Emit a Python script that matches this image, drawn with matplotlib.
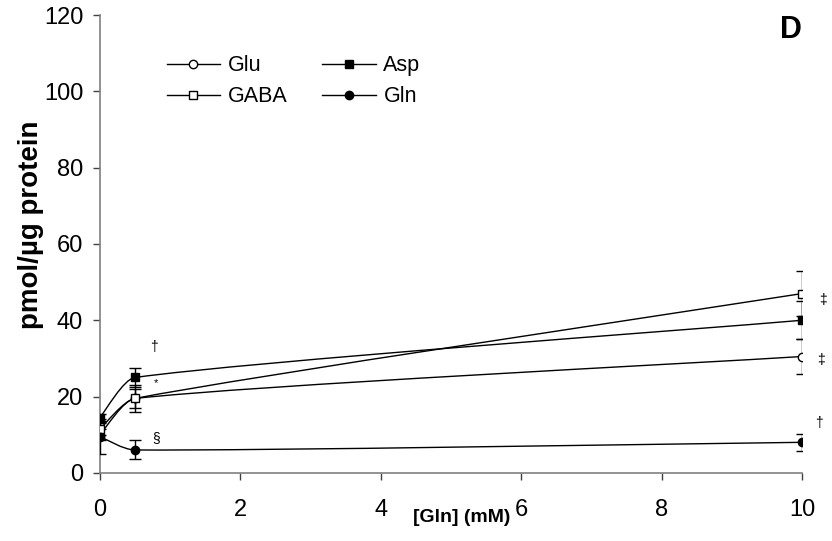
import matplotlib
matplotlib.use('Agg')
import matplotlib.pyplot as plt
from matplotlib.path import Path
import matplotlib.patches as mpatches
from matplotlib.lines import Line2D

plt.rcParams['font.family'] = ['Liberation Sans', 'DejaVu Sans']
NARROW = ['Liberation Sans Narrow', 'Liberation Sans', 'DejaVu Sans']

# data
gln_mM = [0, 0.5, 10]
glu = [10, 19.5, 30.5]
glu_err = [1.5, 3.5, 4.5]
gaba = [11.5, 19.5, 47]
gaba_err = [1.5, 2.5, 6]
asp = [14.5, 25, 40]
asp_err = [1.0, 2.5, 5]
gln = [9.5, 6, 8]
gln_err = [4.5, 2.5, 2.3]

# legend order: column 1 Glu, GABA; column 2 Asp, Gln
series = [
    ('Glu', glu, glu_err, 'o', 'white'),
    ('GABA', gaba, gaba_err, 's', 'white'),
    ('Asp', asp, asp_err, 's', 'black'),
    ('Gln', gln, gln_err, 'o', 'black'),
]


def smooth_path(xs, ys):
    # Excel-like smoothed line: cubic bezier segments through the points
    n = len(xs)
    verts = [(xs[0], ys[0])]
    codes = [Path.MOVETO]
    for i in range(n - 1):
        x0, y0 = xs[max(i - 1, 0)], ys[max(i - 1, 0)]
        x1, y1 = xs[i], ys[i]
        x2, y2 = xs[i + 1], ys[i + 1]
        x3, y3 = xs[min(i + 2, n - 1)], ys[min(i + 2, n - 1)]
        d1 = ((x2 - x0) / 6, (y2 - y0) / 6)
        d2 = ((x3 - x1) / 6, (y3 - y1) / 6)
        seg = x2 - x1
        if d1[0] > seg / 3:
            f = seg / 3 / d1[0]
            d1 = (d1[0] * f, d1[1] * f)
        if d2[0] > seg / 3:
            f = seg / 3 / d2[0]
            d2 = (d2[0] * f, d2[1] * f)
        verts += [(x1 + d1[0], y1 + d1[1]), (x2 - d2[0], y2 - d2[1]), (x2, y2)]
        codes += [Path.CURVE4] * 3
    return Path(verts, codes)


fig = plt.figure(figsize=(8.32, 5.41), dpi=100)
ax = fig.add_axes([0.120, 0.126, 0.844, 0.846])

for name, ys, err, mk, fc in series:
    ax.add_patch(mpatches.PathPatch(smooth_path(gln_mM, ys), facecolor='none',
                                    edgecolor='black', lw=1.0, zorder=2))
    ax.errorbar(gln_mM, ys, yerr=err, fmt='none', ecolor='black', elinewidth=1,
                capsize=4, capthick=1, zorder=3)
    ax.plot(gln_mM, ys, linestyle='none', marker=mk, markersize=6 if mk == 'o' else 5.5,
            markerfacecolor=fc, markeredgecolor='black', markeredgewidth=1, zorder=4)

ax.set_xlim(0, 10)
ax.set_ylim(0, 120)
ax.set_xticks([0, 2, 4, 6, 8, 10])
ax.set_yticks(range(0, 121, 20))
for s in ['top', 'right']:
    ax.spines[s].set_visible(False)
for s in ['left', 'bottom']:
    ax.spines[s].set_color('#808080')
    ax.spines[s].set_linewidth(1.2)
ax.tick_params(direction='out', length=5, width=1, color='#404040')
ax.tick_params(axis='x', pad=14)
ax.tick_params(axis='y', pad=7)
for lab in ax.get_xticklabels() + ax.get_yticklabels():
    lab.set_family(NARROW)
    lab.set_fontsize(17)

ax.set_ylabel('pmol/µg protein', fontsize=20, fontweight='bold')
ax.yaxis.set_label_coords(-0.080, 0.541)
ax.yaxis.label.set_verticalalignment('bottom')
ax.set_xlabel('[Gln] (mM)', fontsize=14, fontweight='bold', family=NARROW)
ax.xaxis.set_label_coords(0.516, -0.080)

# significance marks
ax.text(0.77, 33, '†', fontsize=10, ha='center', va='center')
ax.text(0.80, 23.5, '*', fontsize=8, ha='center', va='center')
ax.text(0.80, 9.2, '§', fontsize=10, ha='center', va='center')
ax.text(10.3, 45.3, '‡', fontsize=10, ha='center', va='center')
ax.text(10.27, 29.6, '‡', fontsize=10, ha='center', va='center')
ax.text(10.24, 13, '†', fontsize=10, ha='center', va='center')

ax.text(9.84, 116.0, 'D', fontsize=22, fontweight='bold', family=NARROW,
        ha='center', va='center')

handles = [Line2D([], [], color='black', lw=1, marker=mk, markersize=6 if mk == 'o' else 5.5,
                  markerfacecolor=fc, markeredgecolor='black', label=name)
           for name, ys, err, mk, fc in series]
ax.legend(handles=handles, ncol=2, frameon=False, fontsize=15.5,
          loc='upper left', bbox_to_anchor=(0.095, 0.912), handlelength=2.5,
          handletextpad=0.35, columnspacing=1.6, labelspacing=0.45,
          borderpad=0, borderaxespad=0)

fig.savefig('out.png', dpi=100)
